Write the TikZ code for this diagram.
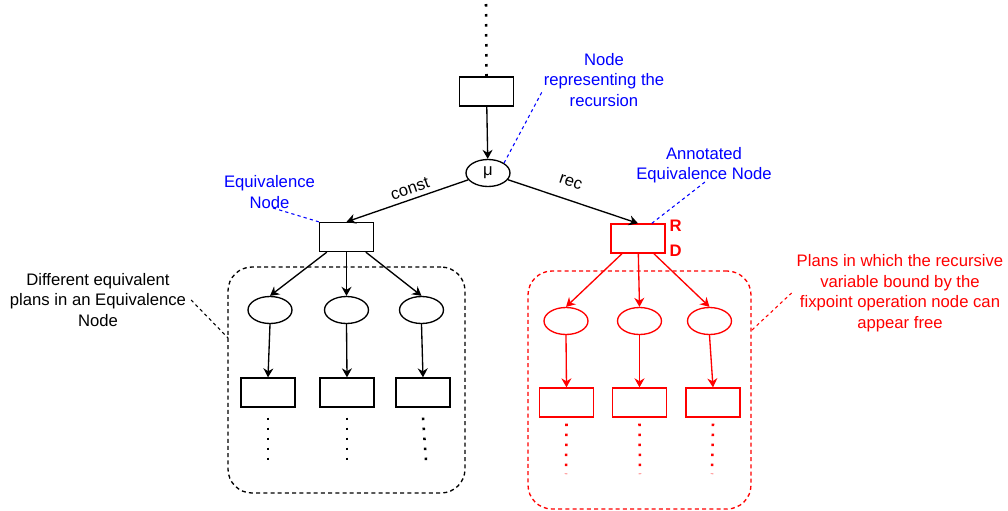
\documentclass[tikz,border=0pt]{standalone}
\usepackage{fontspec}
\setmainfont{Liberation Sans}
\usetikzlibrary{arrows.meta,shapes.geometric,calc,positioning}
\definecolor{annblue}{RGB}{0,0,255}
\definecolor{recred}{RGB}{255,0,0}
\tikzset{
	eqbox/.style={draw, rectangle, minimum width=40.5pt, minimum height=21.75pt, inner sep=0pt},
	planop/.style={draw, ellipse, minimum width=33pt, minimum height=20.25pt, inner sep=0pt},
	arr/.style={-{Stealth[length=6.75pt,width=7.5pt,inset=2.2pt]}},
	dots/.style={line width=1.9pt, dash pattern=on 1.9pt off 5.6pt},
	note/.style={align=center},
	hint/.style={dash pattern=on 2.4pt off 2.4pt, line width=0.8pt},
	planset/.style={draw, dash pattern=on 3pt off 2.4pt, rounded corners=18pt, inner sep=0pt},
}
\begin{document}
\begin{tikzpicture}[x=0.75pt, y=-0.75pt, line width=1pt, font=\fontsize{12.5}{15.4}\selectfont]
	\useasboundingbox (0,0) rectangle (1008,511);
	\node[planset, minimum width=177.75pt, minimum height=169.5pt] (grpL) at (346.5,380) {};
	\node[planset, recred, minimum width=167.25pt, minimum height=178.5pt] (grpR) at (639.5,390) {};
	\node[eqbox] (rtop) at (486.5,91.5) {};
	\node[planop] (mu) at (488,173) {μ};
	\node[eqbox] (eqL) at (346.5,237) {};
	\node[eqbox, recred] (eqR) at (638,238.5) {};
	\node[recred, font=\fontsize{12.5}{15.4}\selectfont\bfseries, anchor=west, inner sep=0pt] (lblR) at (669,226) {R};
	\node[recred, font=\fontsize{12.5}{15.4}\selectfont\bfseries, anchor=west, inner sep=0pt] (lblD) at (669,251) {D};
	\node[planop] (pl1) at (270,310) {};
	\node[planop] (pl2) at (346.5,310) {};
	\node[planop] (pl3) at (421.5,310) {};
	\node[eqbox] (bx1) at (268,392.5) {};
	\node[eqbox] (bx2) at (347,392.5) {};
	\node[eqbox] (bx3) at (423,392.5) {};
	\node[planop, recred] (rp1) at (566,321) {};
	\node[planop, recred] (rp2) at (639.5,321) {};
	\node[planop, recred] (rp3) at (709.5,321) {};
	\node[eqbox, recred] (rb1) at (566.5,402.5) {};
	\node[eqbox, recred] (rb2) at (639.5,402.5) {};
	\node[eqbox, recred] (rb3) at (713,402.5) {};
	\node[note, annblue] (recTxt) at (604,80) {Node\\representing the\\recursion};
	\node[note, annblue] (eqTxt) at (269.5,192) {Equivalence\\Node};
	\node[note, annblue] (annTxt) at (704,165) {Annotated\\Equivalence Node};
	\node[note] (diffTxt) at (98,300) {Different equivalent\\plans in an Equivalence\\Node};
	\node[note, recred] (plansTxt) at (900,293) {Plans in which the recursive\\variable bound by the\\fixpoint operation node can\\appear free};
	\coordinate (topEnd) at (486,4);
	\coordinate (recEnd) at (543,90);
	\coordinate (eqEnd) at (273,208);
	\coordinate (annEnd) at (705,182);
	\coordinate (grpLEnd) at (228,338);
	\coordinate (grpREnd) at (752,330);
	\coordinate (e1) at (268,461);
	\coordinate (e2) at (347,461);
	\coordinate (e3) at (426,461);
	\coordinate (f1) at (566,474);
	\coordinate (f2) at (640,474);
	\coordinate (f3) at (712,474);
	\draw[dots] (topEnd) -- (rtop.north);
	\draw[arr] (rtop) -- (mu);
	\draw[arr] (mu) -- node[pos=0.45, above, sloped] {const} (eqL.north);
	\draw[arr] (mu) -- node[pos=0.44, above=6pt, sloped] {rec} (eqR.north);
	\foreach \i in {1,2,3} {
		\draw[arr] (eqL) -- (pl\i.north);
		\draw[arr] (pl\i.south) -- (bx\i.north);
		\draw[dots] ($(bx\i.south)+(0,10)$) -- (e\i);
		\draw[arr, recred] (eqR) -- (rp\i.north);
		\draw[arr, recred] (rp\i.south) -- (rb\i.north);
		\draw[dots, recred] ($(rb\i.south)+(0,6)$) -- (f\i);
	}
	\draw[hint, annblue] (mu.north east) -- (recEnd);
	\draw[hint, annblue] (eqEnd) -- (eqL.north west);
	\draw[hint, annblue] ($(eqR.north)!0.5!(eqR.north east)$) -- (annEnd);
	\draw[hint] (diffTxt.east) -- (grpLEnd);
	\draw[hint, recred] (grpREnd) -- (plansTxt.west);
\end{tikzpicture}
\end{document}
